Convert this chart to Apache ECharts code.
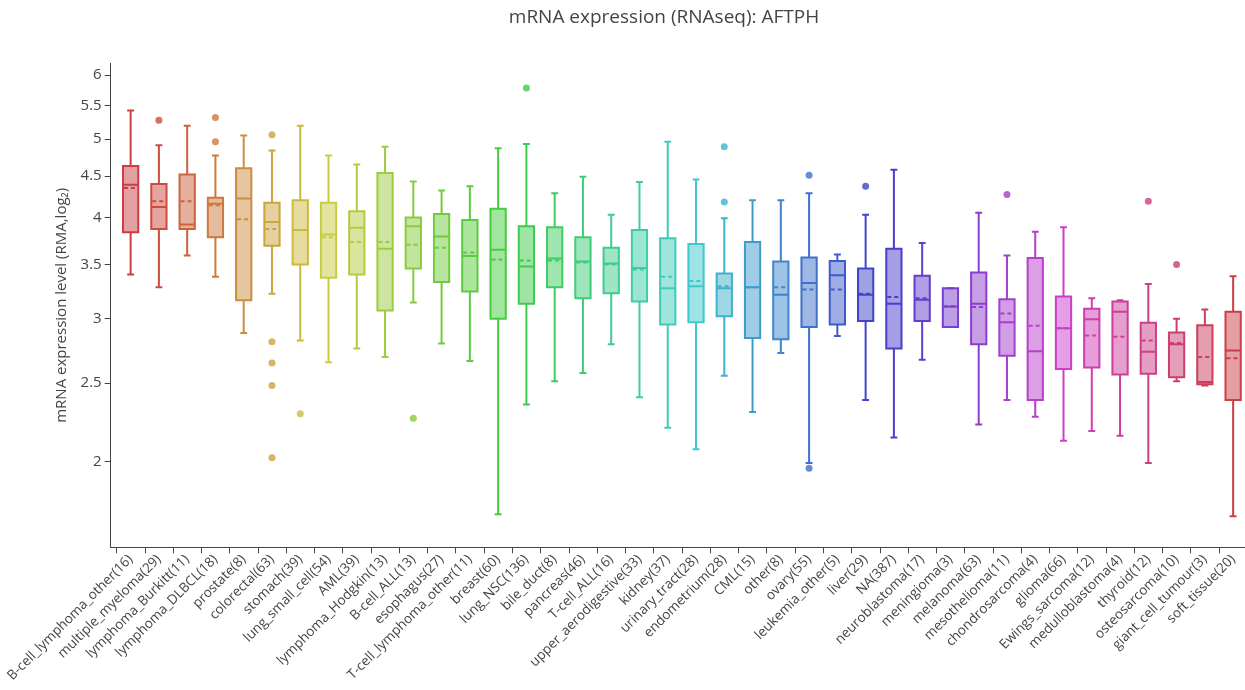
<!DOCTYPE html>
<html>
<head>
<meta charset="utf-8">
<script src="https://cdn.jsdelivr.net/npm/echarts@6/dist/echarts.min.js"></script>
<style>
html,body{margin:0;padding:0;background:#fff;}
#chart{width:1245px;height:690px;}
</style>
</head>
<body>
<div id="chart"></div>
<script>
const categories = ['B-cell_lymphoma_other(16)','multiple_myeloma(29)','lymphoma_Burkitt(11)','lymphoma_DLBCL(18)','prostate(8)','colorectal(63)','stomach(39)','lung_small_cell(54)','AML(39)','lymphoma_Hodgkin(13)','B-cell_ALL(13)','esophagus(27)','T-cell_lymphoma_other(11)','breast(60)','lung_NSC(136)','bile_duct(8)','pancreas(46)','T-cell_ALL(16)','upper_aerodigestive(33)','kidney(37)','urinary_tract(28)','endometrium(28)','CML(15)','other(8)','ovary(55)','leukemia_other(5)','liver(29)','NA(387)','neuroblastoma(17)','meningioma(3)','melanoma(63)','mesothelioma(11)','chondrosarcoma(4)','glioma(66)','Ewings_sarcoma(12)','medulloblastoma(4)','thyroid(12)','osteosarcoma(10)','giant_cell_tumour(3)','soft_tissue(20)'];

const whiskerLow  = [3.40,3.28,3.59,3.38,2.88,3.22,2.82,2.65,2.755,2.69,3.14,2.795,2.66,1.72,2.35,2.51,2.57,2.79,2.40,2.20,2.07,2.55,2.30,2.72,1.99,2.855,2.38,2.14,2.67,2.93,2.22,2.38,2.27,2.12,2.18,2.15,1.99,2.51,2.48,1.71];
const q1          = [3.835,3.87,3.87,3.78,3.16,3.69,3.50,3.37,3.40,3.07,3.46,3.33,3.24,3.00,3.13,3.28,3.18,3.225,3.15,2.95,2.97,3.02,2.84,2.83,2.93,2.95,2.98,2.755,2.98,2.93,2.79,2.70,2.38,2.60,2.61,2.56,2.565,2.54,2.49,2.38];
const medians     = [4.39,4.12,3.92,4.16,4.22,3.95,3.86,3.81,3.885,3.66,3.90,3.79,3.585,3.65,3.48,3.56,3.53,3.51,3.465,3.27,3.29,3.27,3.28,3.21,3.32,3.395,3.21,3.13,3.165,3.105,3.13,2.97,2.735,2.92,2.995,3.06,2.73,2.79,2.505,2.74];
const q3          = [4.63,4.40,4.52,4.23,4.60,4.17,4.20,4.17,4.07,4.54,4.00,4.04,3.97,4.10,3.90,3.89,3.78,3.67,3.86,3.77,3.71,3.41,3.73,3.53,3.57,3.535,3.46,3.66,3.39,3.27,3.42,3.17,3.565,3.195,3.085,3.15,2.965,2.885,2.945,3.06];
const whiskerHigh = [5.42,4.91,5.19,4.77,5.05,4.84,5.19,4.77,4.65,4.89,4.43,4.32,4.37,4.87,4.93,4.285,4.49,4.03,4.425,4.96,4.455,3.99,4.20,4.20,4.285,3.60,4.03,4.58,3.72,3.27,4.055,3.59,3.84,3.89,3.18,3.16,3.31,3.00,3.08,3.385];
const means       = [4.35,4.19,4.19,4.14,3.98,3.87,3.86,3.78,3.73,3.73,3.70,3.67,3.62,3.55,3.54,3.54,3.52,3.50,3.45,3.38,3.34,3.29,3.28,3.28,3.26,3.26,3.22,3.19,3.18,3.105,3.10,3.045,2.94,2.92,2.86,2.85,2.82,2.80,2.69,2.68];
// [category index, value]
const outliers = [[1,5.275],[3,5.315],[3,4.96],[5,5.06],[5,2.81],[5,2.645],[5,2.48],[5,2.02],[6,2.29],[10,2.26],[14,5.78],[21,4.89],[21,4.18],[24,4.51],[24,1.96],[26,4.37],[31,4.27],[36,4.19],[37,3.50]];
const yTickValues = [2,2.5,3,3.5,4,4.5,5,5.5,6];

const N = categories.length;
const hue = i => (360 * i / (N - 1) + 357) % 360;
const lineColor = i => 'hsl(' + hue(i) + ',58%,52%)';
const fillColor = i => 'hsla(' + hue(i) + ',58%,52%,0.5)';

const boxData = categories.map((c, i) => [i,
  Math.log2(whiskerLow[i]), Math.log2(q1[i]), Math.log2(medians[i]),
  Math.log2(q3[i]), Math.log2(whiskerHigh[i]), Math.log2(means[i])]);
const outlierData = outliers.map(o => ({value: [o[0], Math.log2(o[1])], itemStyle: {color: lineColor(o[0])}}));

function renderBox(params, api) {
  const idx = api.value(0);
  const c = lineColor(idx);
  const band = api.size([1, 0])[0];
  const bw = band * 0.54;
  const cap = bw * 0.45;
  const x = api.coord([idx, api.value(3)])[0];
  const y = k => api.coord([idx, api.value(k)])[1];
  const yMin = y(1), yQ1 = y(2), yMed = y(3), yQ3 = y(4), yMax = y(5), yMean = y(6);
  const ls = {stroke: c, lineWidth: 2};
  return {
    type: 'group',
    children: [
      {type: 'line', shape: {x1: x, y1: yQ3, x2: x, y2: yMax}, style: ls},
      {type: 'line', shape: {x1: x, y1: yQ1, x2: x, y2: yMin}, style: ls},
      {type: 'line', shape: {x1: x - cap / 2, y1: yMax, x2: x + cap / 2, y2: yMax}, style: ls},
      {type: 'line', shape: {x1: x - cap / 2, y1: yMin, x2: x + cap / 2, y2: yMin}, style: ls},
      {type: 'rect', shape: {x: x - bw / 2, y: yQ3, width: bw, height: yQ1 - yQ3}, style: {fill: fillColor(idx), stroke: c, lineWidth: 2}},
      {type: 'line', shape: {x1: x - bw / 2, y1: yMed, x2: x + bw / 2, y2: yMed}, style: ls},
      {type: 'line', shape: {x1: x - bw / 2 + 1, y1: yMean, x2: x + bw / 2 - 1, y2: yMean}, style: {stroke: c, lineWidth: 2, lineDash: [4, 3]}}
    ]
  };
}

const chart = echarts.init(document.getElementById('chart'), null, {renderer: 'canvas'});
const FONT = '"Open Sans", "Noto Sans", sans-serif';
chart.setOption({
  animation: false,
  backgroundColor: '#fff',
  textStyle: {fontFamily: FONT},
  title: {
    text: 'mRNA expression (RNAseq): AFTPH',
    left: 664, top: 8, padding: 0, textAlign: 'center',
    textStyle: {fontFamily: FONT, fontSize: 19, fontWeight: 'normal', color: '#444'}
  },
  grid: {left: 110.7, right: 0, top: 63.3, bottom: 142.7, containLabel: false},
  xAxis: {
    type: 'value',
    min: -0.705, max: 39.42,
    axisLine: {show: true, onZero: false, lineStyle: {color: '#444', width: 1}},
    axisTick: {show: true, length: 6, lineStyle: {color: '#444'},
      customValues: categories.map((c, i) => i - 0.5)},
    axisLabel: {show: true, rotate: 45, margin: 10, fontSize: 13.5, color: '#444', fontFamily: FONT,
      customValues: categories.map((c, i) => i),
      formatter: v => categories[Math.round(v)] || ''},
    splitLine: {show: false}
  },
  yAxis: {
    type: 'value',
    min: Math.log2(1.566), max: Math.log2(6.20),
    name: 'mRNA expression level (RMA,log₂)',
    nameLocation: 'middle', nameGap: 34,
    nameTextStyle: {fontFamily: FONT, fontSize: 15, color: '#444'},
    axisLine: {show: true, onZero: false, lineStyle: {color: '#444', width: 1}},
    axisTick: {show: true, length: 6, lineStyle: {color: '#444'},
      customValues: yTickValues.map(v => Math.log2(v))},
    axisLabel: {show: true, margin: 9, fontSize: 15, color: '#444', fontFamily: FONT,
      customValues: yTickValues.map(v => Math.log2(v)),
      formatter: v => String(Math.round(Math.pow(2, v) * 10) / 10)},
    splitLine: {show: false}
  },
  series: [
    {type: 'custom', renderItem: renderBox, data: boxData, encode: {x: 0, y: [1, 2, 3, 4, 5, 6]}, clip: true, z: 2},
    {type: 'scatter', data: outlierData, symbol: 'circle', symbolSize: 7, z: 3}
  ]
});
</script>
</body>
</html>
